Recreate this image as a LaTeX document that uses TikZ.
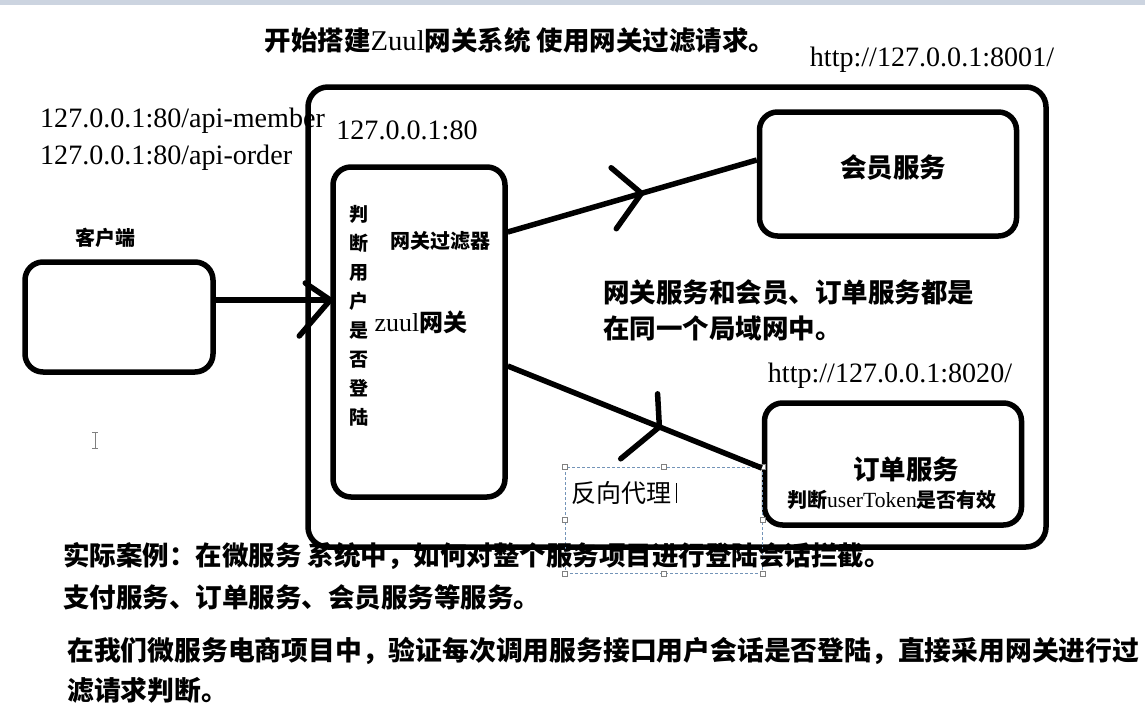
\documentclass[tikz,border=0pt]{standalone}
\usepackage{fontspec}
\setmainfont{Liberation Serif}
\newfontfamily\en[Scale=1.08]{Liberation Serif}
\newfontfamily\zh{Noto Sans CJK SC}
\usetikzlibrary{positioning,decorations.markings}
\definecolor{selblue}{rgb}{.45,.58,.72}
\definecolor{barblue}{rgb}{.80,.83,.88}
\def\Host{127.0.0.1}

\begin{document}
\begin{tikzpicture}[x=1pt,y=-1pt,% one unit is one pixel of the screenshot, y runs down
			every node/.style={
				inner sep=0pt,	% text sits exactly where it is put
				align=center	% use this so that the "\\" for line break works
			},
			box/.style={rectangle,rounded corners=18pt,line width=5.5pt,draw=black},
			zh/.style={font=\zh\bfseries\fontsize{26.5}{36}\selectfont},
			zhsmall/.style={font=\zh\bfseries\fontsize{20}{29}\selectfont},
			en/.style={font=\en\fontsize{26}{30}\selectfont},
			link/.style={draw,line width=5.5pt},
			chevron/.style n args={3}{postaction={decorate},decoration={markings,
				mark=at position #1 with {\draw[line width=5.5pt,line cap=round,line join=round] #2 -- (0pt,0pt) -- #3;}}},
			handle/.style={rectangle,draw=gray,fill=white,line width=.6pt,minimum size=5pt}
		]
		\useasboundingbox (0,0) rectangle (1145,725);
		\fill[barblue] (0,0) rectangle (1145,5);
		% addresses seen from the client
		\node[zh](title) at (520,40){开始搭建{\en\mdseries Zuul}网关系统 使用网关过滤请求。};
		\node[en](memurl) at (932,60){http://\Host:8001/};
		\node[en,anchor=west](apimem) at (40,121){\Host:80/api-member};
		\node[en,anchor=west](apiord) at (40,158){\Host:80/api-order};
		% boxes
		\node[box,rounded corners=20pt,minimum width=738pt,minimum height=460pt](zone) at (677,317){};
		\node[box,minimum width=172pt,minimum height=330pt](gw) at (419,332){};
		\node[box,minimum width=188pt,minimum height=110pt](client) at (119,317){};
		\node[box,minimum width=257pt,minimum height=124pt](mem) at (888,174){};
		\node[box,minimum width=257pt,minimum height=122pt](ord) at (893,464){};
		% texts
		\node[en](gwhost) at (407,130){\Host:80};
		\node[zhsmall,above=11pt of client,xshift=-14pt](clientlbl){客户端};
		\node[zhsmall,font=\zh\bfseries\fontsize{19}{29}\selectfont](check) at (359,316){判\\断\\用\\户\\是\\否\\登\\陆};
		\node[zhsmall](filter) at (440,241){网关过滤器};
		\node[zh,font=\zh\bfseries\fontsize{24}{28}\selectfont](zuul) at (421,322){{\en\mdseries zuul}网关};
		\node[zh](memlbl) at (893,167){会员服务};
		\node[zh,anchor=west,align=left](lan) at (603,310){网关服务和会员、订单服务都是\\在同一个局域网中。};
		\node[en,above=12pt of ord,xshift=-3pt](ordurl){http://\Host:8020/};
		\node[zh](ordlbl) at (906,469){订单服务};
		\node[zhsmall](token) at (892,500){判断{\en\mdseries userToken}是否有效};
		% selected text box of the editor
		\node[draw=selblue,line width=.8pt,dash pattern=on 3pt off 2pt,minimum width=197pt,minimum height=106pt](sel) at (663.5,520){};
		\path
		(sel.north west) node[handle]{} (sel.north) node[handle]{} (sel.north east) node[handle]{}
		(sel.west) node[handle]{} (sel.east) node[handle]{}
		(sel.south west) node[handle]{} (sel.south) node[handle]{} (sel.south east) node[handle]{}
		;
		\node[font=\zh\fontsize{25}{30}\selectfont,anchor=west](proxy) at (571,493){反向代理};
		\draw[line width=1.2pt] ([xshift=5pt,yshift=-2pt]proxy.north east) -- ([xshift=5pt,yshift=2pt]proxy.south east);
		\draw[gray,line width=1pt] (92,432) -- (98,432) (95,432) -- (95,448) (92,448) -- (98,448);
		% notes below
		\node[zh,anchor=west](case) at (63,556){实际案例：在微服务 系统中，如何对整个服务项目进行登陆会话拦截。};
		\node[zh,anchor=west](svcs) at (63,597){支付服务、订单服务、会员服务等服务。};
		\node[zh,font=\zh\bfseries\fontsize{26.8}{40}\selectfont,anchor=west,align=left](summary) at (67,670){在我们微服务电商项目中，验证每次调用服务接口用户会话是否登陆，直接采用网关进行过\\滤请求判断。};
		% connectors
		\draw[link,chevron={1}{(-25pt,17pt)}{(-31pt,-36pt)}] ([yshift=17]client.east) -- ([yshift=32]gw.west);
		\draw[link,chevron={0.537}{(-22pt,33pt)}{(-34pt,-27pt)}] ([yshift=100]gw.east) -- ([yshift=14]mem.west);
		\draw[link,chevron={0.597}{(-14pt,30pt)}{(-24pt,-44pt)}] ([yshift=-34]gw.east) -- ([yshift=-4]ord.west);
	\end{tikzpicture}
\end{document}
